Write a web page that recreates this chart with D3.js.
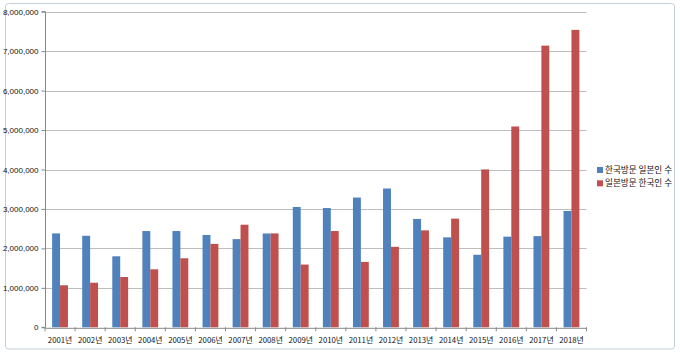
<!DOCTYPE html>
<html>
<head>
<meta charset="utf-8">
<script src="https://cdn.jsdelivr.net/npm/d3@7"></script>
<style>
html,body{margin:0;padding:0;background:#fff;}
svg{display:block;}
text{font-family:"Noto Sans CJK KR","Noto Sans",sans-serif;}
</style>
</head>
<body>
<svg id="chart" width="680" height="355"></svg>
<script>
const years = ["2001년","2002년","2003년","2004년","2005년","2006년","2007년","2008년","2009년","2010년","2011년","2012년","2013년","2014년","2015년","2016년","2017년","2018년"];
const seriesNames = ["한국방문 일본인 수","일본방문 한국인 수"];
const japanToKorea = [2380000,2320000,1800000,2440000,2440000,2340000,2235000,2378000,3050000,3023000,3289000,3518000,2747000,2280000,1838000,2298000,2311000,2949000];
const koreaToJapan = [1065000,1130000,1275000,1470000,1750000,2115000,2600000,2380000,1590000,2440000,1658000,2040000,2457000,2755000,4002000,5090000,7140000,7539000];
const yTicks = [0,1000000,2000000,3000000,4000000,5000000,6000000,7000000,8000000];
const colors = ["#4F81BD","#C0504D"];

(function(){
const svg = d3.select("#chart");
// outer chart frame
svg.append("rect").attr("x",5.5).attr("y",3.5).attr("width",669).attr("height",345.5)
  .attr("rx",3).attr("fill","#fff").attr("stroke","#c4ced8").attr("stroke-width",1);

const pl = 45, pr = 586.5, pt = 11.7, pb = 327.3;
const x = d3.scaleBand().domain(years).range([pl,pr]).paddingInner(0).paddingOuter(0);
const xs = d3.scaleBand().domain([0,1]).range([0,x.bandwidth()]).paddingOuter(0.9).paddingInner(0);
const y = d3.scaleLinear().domain([0,8000000]).range([pb,pt]);

// gridlines
svg.append("g").selectAll("line").data(yTicks.filter(d=>d>0)).join("line")
  .attr("x1",pl).attr("x2",pr)
  .attr("y1",d=>Math.round(y(d))+0.5).attr("y2",d=>Math.round(y(d))+0.5)
  .attr("stroke","#bdbdbd").attr("stroke-width",1.2);

// bars
const data = years.map((yr,i)=>({yr, vals:[japanToKorea[i], koreaToJapan[i]]}));
const groups = svg.append("g").selectAll("g").data(data).join("g")
  .attr("transform",d=>`translate(${x(d.yr)},0)`);
groups.selectAll("rect").data(d=>d.vals.map((v,k)=>({v,k}))).join("rect")
  .attr("x",d=>xs(d.k)).attr("width",xs.bandwidth())
  .attr("y",d=>y(d.v)).attr("height",d=>pb-y(d.v))
  .attr("fill",d=>colors[d.k]);

// y axis
const yAxis = d3.axisLeft(y).tickValues(yTicks).tickSize(4).tickFormat(d3.format(","));
const ya = svg.append("g").attr("transform",`translate(${pl+0.5},0)`).call(yAxis);
ya.select(".domain").attr("stroke","#888").attr("d",`M-4,${pb}H0V${pt}H-4`);
ya.selectAll(".tick line").attr("stroke","#888");
ya.selectAll(".tick text").attr("x",-7).attr("font-size","8px").attr("fill","#111")
  .style("font-family","'Liberation Sans',Arial,sans-serif");

// x axis
const xAxis = d3.axisBottom(x).tickSize(0);
const xa = svg.append("g").attr("transform",`translate(0,${pb+0.5})`).call(xAxis);
xa.select(".domain").attr("stroke","#888");
xa.selectAll(".tick text").attr("dy","0").attr("y",15).attr("font-size","7.8px").attr("fill","#111");
// category boundary tick marks
svg.append("g").selectAll("line").data(years.concat(["end"])).join("line")
  .attr("x1",(d,i)=>pl+i*x.bandwidth()).attr("x2",(d,i)=>pl+i*x.bandwidth())
  .attr("y1",pb).attr("y2",pb+4).attr("stroke","#888");

// legend
const lg = svg.append("g").attr("transform","translate(597,0)");
seriesNames.forEach((n,i)=>{
  const yy = 170 + i*13.3;
  lg.append("rect").attr("x",0).attr("y",yy-3).attr("width",6).attr("height",6).attr("fill",colors[i]);
  lg.append("text").attr("x",8).attr("y",yy+3).attr("font-size","8.6px").attr("fill","#111").text(n);
});
})();
</script>
</body>
</html>
